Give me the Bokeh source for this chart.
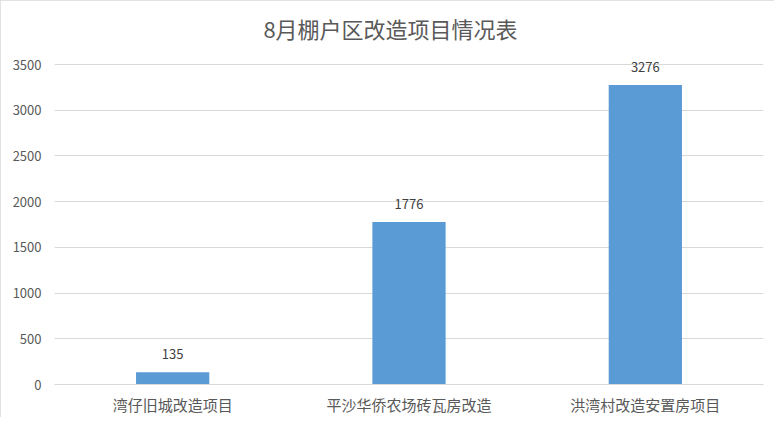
from bokeh.plotting import figure
from bokeh.models import ColumnDataSource, LabelSet, Label, Range1d, FactorRange, FixedTicker
from bokeh.core.properties import value
from bokeh.embed import file_html
from bokeh.resources import INLINE

title_text = "8月棚户区改造项目情况表"
categories = ["湾仔旧城改造项目", "平沙华侨农场砖瓦房改造", "洪湾村改造安置房项目"]
values = [135, 1776, 3276]
labels = [str(v) for v in values]
y_ticks = [0, 500, 1000, 1500, 2000, 2500, 3000, 3500]

FONT = "Noto Sans CJK SC"

src = ColumnDataSource(dict(cat=categories, val=values, lab=labels))

# frame spans from near the top of the page so the title can sit inside it;
# 3500 lands at the same height as in the reference
p = figure(width=774, height=417, x_range=FactorRange(*categories, range_padding=0),
           y_range=Range1d(0, 4156.25), output_backend="svg", toolbar_location=None,
           min_border_left=54, min_border_right=11, min_border_top=4, min_border_bottom=33)
p.outline_line_color = None
p.background_fill_color = "white"
p.border_fill_color = "white"
p.styles = {"outline": "1px solid #d9d9d9", "outline-offset": "-1px"}

p.vbar(x="cat", top="val", width=0.31, source=src, fill_color="#5B9BD5", line_color=None)

p.add_layout(LabelSet(x="cat", y="val", text="lab", source=src, y_offset=18,
                      text_align="center", text_baseline="middle",
                      text_font=value(FONT), text_font_size="13px", text_color="#404040"))

p.yaxis.ticker = FixedTicker(ticks=y_ticks)
p.yaxis.axis_line_color = None
p.yaxis.major_tick_line_color = None
p.yaxis.minor_tick_line_color = None
p.yaxis.major_label_text_font = FONT
p.yaxis.major_label_text_font_size = "13px"
p.yaxis.major_label_text_color = "#595959"
p.yaxis.major_label_standoff = 7

p.xaxis.axis_line_color = "#d9d9d9"
p.xaxis.major_tick_line_color = None
p.xaxis.minor_tick_line_color = None
p.xaxis.major_label_text_font = FONT
p.xaxis.major_label_text_font_size = "15px"
p.xaxis.major_label_text_color = "#595959"
p.xaxis.major_label_standoff = 3

p.xgrid.grid_line_color = None
p.ygrid.grid_line_color = "#d9d9d9"
p.ygrid.grid_line_width = 1

p.add_layout(Label(x=336, y=357, x_units="screen", y_units="screen", text=title_text,
                   text_align="center", text_baseline="middle", text_font=FONT,
                   text_font_size="22px", text_color="#595959"))

open("out.html", "w").write(file_html(p, INLINE))
